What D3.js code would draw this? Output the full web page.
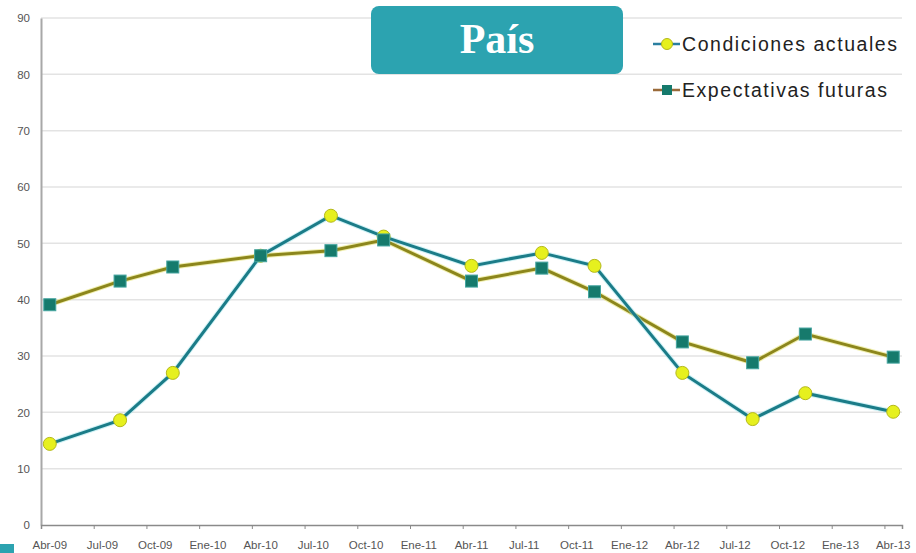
<!DOCTYPE html>
<html>
<head>
<meta charset="utf-8">
<script src="https://cdn.jsdelivr.net/npm/d3@7"></script>
<style>
  body { margin: 0; background: #fff; }
  svg { display: block; }
</style>
</head>
<body>
<svg width="916" height="553"></svg>
<script>
// months of each survey, and the two series
var months = ["2009-04", "2009-08", "2009-11", "2010-04", "2010-08", "2010-11", "2011-04",
              "2011-08", "2011-11", "2012-04", "2012-08", "2012-11", "2013-04"];
var actuales = [14.4, 18.6, 27.0, 47.8, 54.9, 51.2, 46.0, 48.3, 46.0, 27.0, 18.8, 23.4, 20.1];
var futuras = [39.1, 43.3, 45.8, 47.8, 48.7, 50.6, 43.3, 45.6, 41.4, 32.5, 28.8, 33.9, 29.8];
var tickLabels = ["Abr-09", "Jul-09", "Oct-09", "Ene-10", "Abr-10", "Jul-10", "Oct-10", "Ene-11", "Abr-11",
                  "Jul-11", "Oct-11", "Ene-12", "Abr-12", "Jul-12", "Oct-12", "Ene-13", "Abr-13"];
var yTicks = [0, 10, 20, 30, 40, 50, 60, 70, 80, 90];

var svg = d3.select("svg");
var plotLeft = 41, plotRight = 902, plotTop = 18, plotBottom = 525;

var parse = d3.timeParse("%Y-%m");
var start = parse(months[0]);
function monthIndex(m) { return d3.timeMonth.count(start, parse(m)); }

// one slot per month, points in the middle of their month (Excel date axis)
var x = d3.scaleLinear().domain([0, 49]).range([plotLeft, plotRight]);
var y = d3.scaleLinear().domain([0, 90]).range([plotBottom, plotTop]);

// grid
svg.append("g")
  .selectAll("line")
  .data(yTicks.slice(1))
  .enter()
  .append("line")
  .attr("x1", plotLeft).attr("x2", plotRight)
  .attr("y1", function (d) { return y(d); })
  .attr("y2", function (d) { return y(d); })
  .attr("stroke", "#e3e3e3")
  .attr("stroke-width", 1.5);

// y axis
var yAxis = svg.append("g")
  .attr("transform", "translate(" + plotLeft + ",0)")
  .call(d3.axisLeft(y).tickValues(yTicks).tickSize(0).tickPadding(11));
yAxis.select(".domain").attr("stroke", "#a8a8a8").attr("stroke-width", 2);
yAxis.selectAll("text")
  .attr("font-family", "Liberation Sans, Arial, sans-serif")
  .attr("font-size", 11.5)
  .attr("fill", "#555");

// x axis: ticks at quarter boundaries, labels at the first month of each quarter
var tickIdx = tickLabels.map(function (d, i) { return i * 3; });
var xAxis = svg.append("g")
  .attr("transform", "translate(0," + plotBottom + ")")
  .call(d3.axisBottom(x).tickValues(tickIdx.concat([49])).tickSize(4).tickFormat(""));
xAxis.select(".domain").attr("stroke", "#8a8a8a").attr("stroke-width", 1.5);
xAxis.selectAll(".tick line").attr("stroke", "#8a8a8a");

svg.append("g")
  .selectAll("text")
  .data(tickLabels)
  .enter()
  .append("text")
  .attr("x", function (d, i) { return x(tickIdx[i] + 0.5); })
  .attr("y", 549)
  .attr("text-anchor", "middle")
  .attr("font-family", "Liberation Sans, Arial, sans-serif")
  .attr("font-size", 11.5)
  .attr("fill", "#555")
  .text(function (d) { return d; });

function pts(values) {
  return values.map(function (v, i) { return [x(monthIndex(months[i]) + 0.5), y(v)]; });
}
var line = d3.line();

var futPts = pts(futuras), actPts = pts(actuales);

svg.append("path")
  .attr("d", line(futPts))
  .attr("fill", "none")
  .attr("stroke", "#e2e060")
  .attr("stroke-width", 5)
  .attr("opacity", 0.5);
svg.append("path")
  .attr("d", line(futPts))
  .attr("fill", "none")
  .attr("stroke", "#8c861c")
  .attr("stroke-width", 3);

svg.append("path")
  .attr("d", line(actPts))
  .attr("fill", "none")
  .attr("stroke", "#9fe6ee")
  .attr("stroke-width", 5)
  .attr("opacity", 0.5);
svg.append("path")
  .attr("d", line(actPts))
  .attr("fill", "none")
  .attr("stroke", "#1b7c88")
  .attr("stroke-width", 3);

svg.append("g")
  .selectAll("circle")
  .data(actPts)
  .enter()
  .append("circle")
  .attr("cx", function (d) { return d[0]; })
  .attr("cy", function (d) { return d[1]; })
  .attr("r", 6.5)
  .attr("fill", "#e6f01e")
  .attr("stroke", "#b4b81a")
  .attr("stroke-width", 1);

svg.append("g")
  .selectAll("rect")
  .data(futPts)
  .enter()
  .append("rect")
  .attr("x", function (d) { return d[0] - 6; })
  .attr("y", function (d) { return d[1] - 6; })
  .attr("width", 12)
  .attr("height", 12)
  .attr("fill", "#167a6c")
  .attr("stroke", "#45a5a0")
  .attr("stroke-width", 1);

// title box
svg.append("rect")
  .attr("x", 371).attr("y", 6)
  .attr("width", 252).attr("height", 68)
  .attr("rx", 8)
  .attr("fill", "#2ca3b0");
svg.append("text")
  .attr("x", 497).attr("y", 53)
  .attr("text-anchor", "middle")
  .attr("font-family", "Liberation Serif, Times New Roman, serif")
  .attr("font-weight", "bold")
  .attr("font-size", 42)
  .attr("fill", "#fff")
  .text("País");

// legend
var legend = [
  { name: "Condiciones actuales", y: 44, w: 215, line: "#2a7fa0", kind: "circle" },
  { name: "Expectativas futuras", y: 90, w: 205, line: "#9a6a3a", kind: "square" }
];
var lg = svg.append("g")
  .selectAll("g")
  .data(legend)
  .enter()
  .append("g");
lg.append("line")
  .attr("x1", 653).attr("x2", 680)
  .attr("y1", function (d) { return d.y; })
  .attr("y2", function (d) { return d.y; })
  .attr("stroke", function (d) { return d.line; })
  .attr("stroke-width", 2.5);
lg.filter(function (d) { return d.kind === "circle"; })
  .append("circle")
  .attr("cx", 667).attr("cy", function (d) { return d.y; })
  .attr("r", 5.5)
  .attr("fill", "#e6f01e")
  .attr("stroke", "#b4b81a");
lg.filter(function (d) { return d.kind === "square"; })
  .append("rect")
  .attr("x", 662).attr("y", function (d) { return d.y - 5; })
  .attr("width", 10).attr("height", 10)
  .attr("fill", "#167a6c");
lg.append("text")
  .attr("x", 682)
  .attr("y", function (d) { return d.y + 7; })
  .attr("font-family", "Liberation Sans, Arial, sans-serif")
  .attr("font-size", 19.5)
  .attr("fill", "#222")
  .attr("textLength", function (d) { return d.w; })
  .attr("lengthAdjust", "spacing")
  .text(function (d) { return d.name; });

// small mark in the corner
svg.append("rect")
  .attr("x", 0).attr("y", 544)
  .attr("width", 14).attr("height", 9)
  .attr("fill", "#2ca3b0");
</script>
</body>
</html>
